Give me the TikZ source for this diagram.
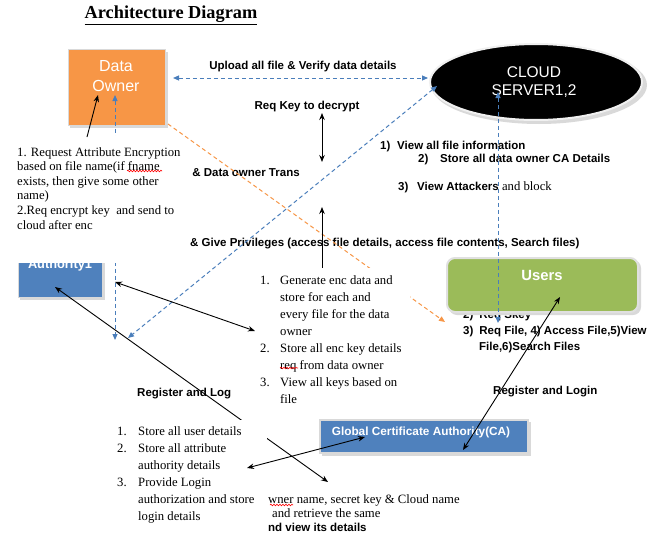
\documentclass[tikz,border=0pt]{standalone}
\usepackage{fontspec}
\setmainfont{Liberation Serif}
\setsansfont{Liberation Sans}
\usetikzlibrary{arrows.meta,decorations.pathmorphing,shapes.geometric}
\definecolor{doorange}{HTML}{F79646}
\definecolor{cablue}{HTML}{4F81BD}
\definecolor{usgreen}{HTML}{9BBB59}
\definecolor{lnblue}{HTML}{4A7EBB}
\tikzset{
 sfl/.style={font=\sffamily\bfseries\fontsize{11.5}{13}\selectfont, inner sep=0pt},
 serl/.style={font=\rmfamily\fontsize{12.7}{17}\selectfont, inner sep=0pt},
 bdash/.style={draw=lnblue, line width=1pt, dash pattern=on 4pt off 3pt},
 odash/.style={draw=doorange, line width=1pt, dash pattern=on 4pt off 3pt},
 blk/.style={draw=black, line width=0.9pt},
 arrone/.style={-{Stealth[length=7pt,width=5.5pt]}},
 arrtwo/.style={{Stealth[length=7pt,width=5.5pt]}-{Stealth[length=7pt,width=5.5pt]}},
 barrone/.style={-{Triangle[length=6pt,width=5pt]}},
 barrtwo/.style={{Triangle[length=6pt,width=5pt]}-{Triangle[length=6pt,width=5pt]}},
 whitebox/.style={fill=white, draw=none},
 squig/.style={draw=red, line width=0.6pt, decorate, decoration={snake, segment length=3pt, amplitude=0.8pt}},
 boxshadow/.style={fill=gray!30, draw=none},
}
\begin{document}
\begin{tikzpicture}[x=1pt,y=-1pt]
\useasboundingbox (0,0) rectangle (660,535);
\fill[white] (0,0) rectangle (660,535);

% title
\node[font=\rmfamily\bfseries\fontsize{18.3}{20}\selectfont, anchor=base, inner sep=0] (title) at (171,19) {\underline{Architecture Diagram}};

% cloud
\fill[boxshadow] (539,85) ellipse [x radius=108, y radius=39];
\node[ellipse, fill=black, draw=gray!12, line width=2pt, minimum width=212, minimum height=76, inner sep=0] (cloud) at (536,82) {};
\node[font=\sffamily\fontsize{15.5}{17.5}\selectfont, text=white, align=center, inner sep=0] (cloudtxt) at (534,82) {CLOUD\\SERVER1,2};

% data owner
\fill[boxshadow] (70,52) rectangle (168,128);
\node[rectangle, fill=doorange, draw=white!85!black, line width=1pt, minimum width=97, minimum height=75, inner sep=0] (owner) at (116.5,87.5) {};
\node[font=\sffamily\fontsize{16}{20}\selectfont, text=white, align=center, inner sep=0] (ownertxt) at (116,76) {Data\\Owner};

% attribute authority
\fill[boxshadow] (20,242) rectangle (105,300);
\node[rectangle, fill=cablue, draw=white!85!black, line width=1pt, minimum width=84, minimum height=57, inner sep=0] (auth) at (60,268.5) {};
\node[font=\sffamily\bfseries\fontsize{12.8}{14}\selectfont, text=white, anchor=base, inner sep=0] (authtxt) at (60,268.5) {Authority1};

% users
\node[sfl, anchor=base west] (skey) at (463,318.5) {2)\hspace{6pt}Req Skey};
\fill[boxshadow, rounded corners=8] (449,260) rectangle (641,315);
\node[rectangle, rounded corners=8, fill=usgreen, draw=white!88!black, line width=2pt, minimum width=191, minimum height=54, inner sep=0] (users) at (542.5,285) {};
\node[font=\sffamily\bfseries\fontsize{14.8}{16}\selectfont, text=white, anchor=base, inner sep=0] (userstxt) at (542,280.5) {Users};

% global CA
\fill[boxshadow] (322,422) rectangle (531,456);
\node[rectangle, fill=cablue, draw=white!85!black, line width=1.5pt, minimum width=208, minimum height=33, inner sep=0] (ca) at (424,436.5) {};
\node[font=\sffamily\bfseries\fontsize{11.8}{13}\selectfont, text=white, anchor=base, inner sep=0] (catxt) at (421,435.5) {Global Certificate Authority(CA)};

% free labels
\node[sfl, anchor=base] (upl) at (303,69) {Upload all file \& Verify data details};
\node[sfl, anchor=base] (reqkey) at (307,109) {Req Key to decrypt};
\node[sfl, anchor=base] (trans) at (246,176) {\& Data owner Trans};
\node[sfl, anchor=base west] (priv) at (190,246) {\& Give Privileges (access file details, access file contents, Search files)};
\node[sfl, anchor=base west] (cl1) at (380,149) {1)\hspace{6.8pt}View all file information};
\node[sfl, anchor=base west] (cl2) at (418,162) {2)\hspace{11.8pt}Store all data owner CA Details};
\node[sfl, anchor=base west] (cl3) at (398,190) {3)\hspace{8.8pt}View Attackers{\rmfamily\mdseries\fontsize{12.7}{15}\selectfont\ and block}};
\node[sfl, anchor=base west] (us3) at (463,334.5) {3)\hspace{6pt}Req File, 4) Access File,5)View};
\node[sfl, anchor=base west] (us3b) at (479,350) {File,6)Search Files};
\node[sfl, anchor=base west] (reglog) at (137,396) {Register and Log};
\node[sfl, anchor=base west] (reglogin) at (493,394) {Register and Login};
\node[serl, anchor=base west] (frag1) at (268,503) {wner name, secret key \& Cloud name};
\node[serl, anchor=base west] (frag2) at (272,517) {and retrieve the same};
\node[sfl, anchor=base west] (frag3) at (268,531) {nd view its details};

% connector end points
\coordinate (updl) at (173,78);
\coordinate (updr) at (428,78);
\coordinate (ownbot) at (168,124);
\coordinate (orgend) at (445,322);
\coordinate (clddl) at (437,86);
\coordinate (diagend) at (128,338);
\coordinate (owntop) at (115,95);
\coordinate (ownlow) at (115,340);
\coordinate (cldtop) at (498,92);
\coordinate (cldlow) at (498,323);
\coordinate (kt) at (322,113);
\coordinate (kb) at (322,162);
\coordinate (pt) at (322,207);
\coordinate (pb) at (322,268);
\coordinate (authr) at (115,282);
\coordinate (genl) at (255,331);
\coordinate (authin) at (55,287);
\coordinate (crossend) at (328,482);
\coordinate (usin) at (560,297);
\coordinate (cain) at (463,450);
\coordinate (storer) at (247,468);
\coordinate (cal) at (365,437);
\coordinate (reqtop) at (87,137);
\coordinate (owin) at (98,95);

% dashed connectors
\draw[bdash, barrtwo] (updl) -- (updr);
\draw[bdash, barrtwo] (owntop) -- (ownlow);
\draw[odash, barrone] (ownbot) -- (orgend);
\draw[bdash, barrtwo] (clddl) -- (diagend);
\draw[bdash, barrtwo] (cldtop) -- (cldlow);

% black connectors
\draw[blk, arrtwo] (kt) -- (kb);
\draw[blk, arrone] (pb) -- (pt);
\draw[blk, arrtwo] (authr) -- (genl);
\draw[blk, arrtwo] (authin) -- (crossend);
\draw[blk, arrtwo] (cain) -- (usin);

% white text boxes
\fill[whitebox] (10,136) rectangle (182,263);
\node[font=\rmfamily\fontsize{12.7}{14.6}\selectfont, inner sep=0, anchor=base west, align=left] (reqtxt) at (17,156) {\begin{tabular}[t]{@{}l@{}}1. Request Attribute Encryption\\based on file name(if fname\\exists, then give some other\\name)\\2.Req encrypt key\ \ and send to\\cloud after enc\end{tabular}};

\fill[whitebox] (257,268) rectangle (410,405);
\node[serl, anchor=base west] (gentxt) at (260,284) {\begin{tabular}[t]{@{}p{20pt}@{}l@{}}1.&Generate enc data and\\ &store for each and\\ &every file for the data\\ &owner\\ 2.&Store all enc key details\\ &req from data owner\\ 3.&View all keys based on\\ &file\end{tabular}};

\fill[whitebox] (88,420) rectangle (267,535);
\node[serl, anchor=base west] (storetxt) at (117,435) {\begin{tabular}[t]{@{}p{21pt}@{}l@{}}1.&Store all user details\\ 2.&Store all attribute\\ &authority details\\ 3.&Provide Login\\ &authorization and store\\ &login details\end{tabular}};

% connectors on top
\draw[blk, arrone] (reqtop) -- (owin);
\draw[blk, arrtwo] (storer) -- (cal);

% spell-check marks
\draw[squig] (127,171) -- (162,171);
\draw[squig] (280,368) -- (298,368);
\draw[squig] (270,505) -- (293,505);
\end{tikzpicture}
\end{document}
